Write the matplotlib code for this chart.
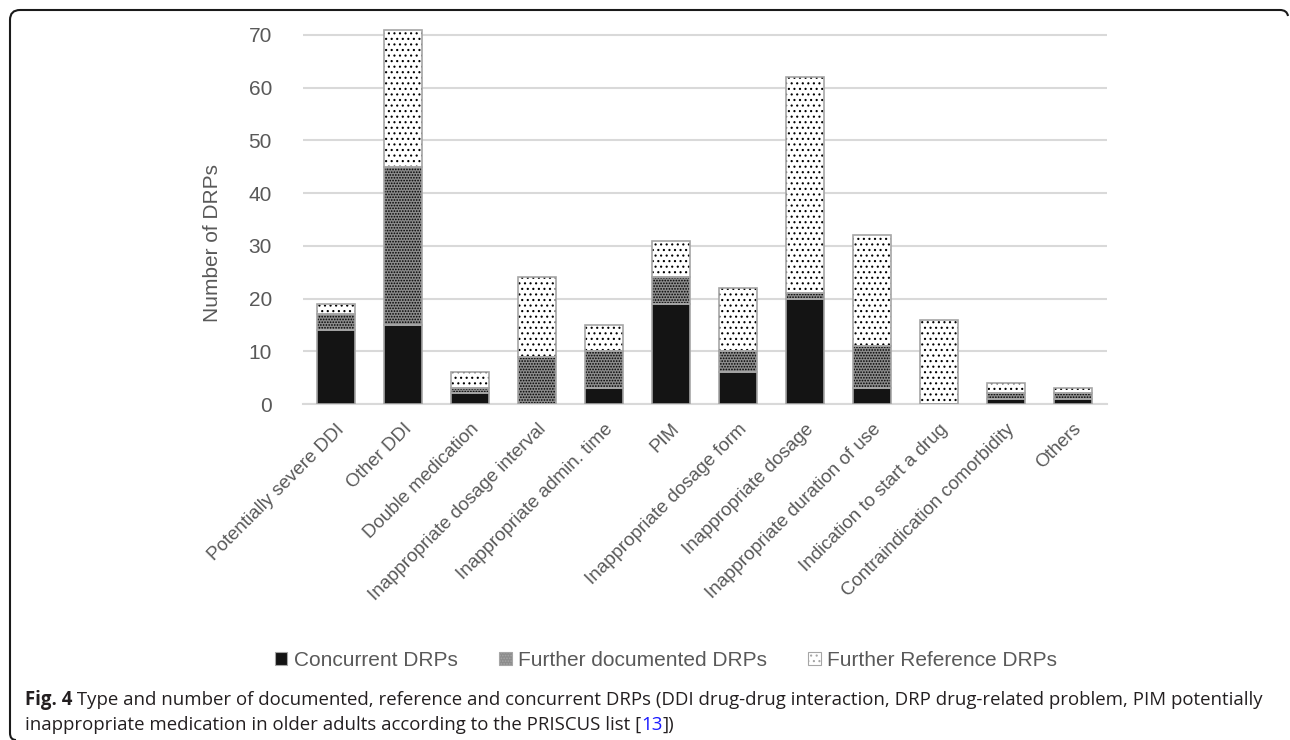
import numpy as np
from matplotlib import pyplot as plt
from matplotlib.path import Path
from matplotlib.patches import PathPatch, Patch

categories = [
    "Potentially severe DDI", "Other DDI", "Double medication",
    "Inappropriate dosage interval", "Inappropriate admin. time", "PIM",
    "Inappropriate dosage form", "Inappropriate dosage",
    "Inappropriate duration of use", "Indication to start a drug",
    "Contraindication comorbidity", "Others",
]
concurrent = [14, 15, 2, 0, 3, 19, 6, 20, 3, 0, 1, 1]
documented = [3, 30, 1, 9, 7, 5, 4, 1, 8, 0, 1, 1]
reference = [2, 26, 3, 15, 5, 7, 12, 41, 21, 16, 2, 1]
series_names = ["Concurrent DRPs", "Further documented DRPs", "Further Reference DRPs"]
yticks = [0, 10, 20, 30, 40, 50, 60, 70]

W, H = 1290, 740
plt.rcParams['font.family'] = ['Liberation Sans', 'DejaVu Sans']
plt.rcParams['hatch.linewidth'] = 0.8
plt.rcParams['hatch.color'] = 'black'

fig = plt.figure(figsize=(W / 100, H / 100), dpi=100)
# y = 0 sits at 404 px, y = 70 at 35 px; a bit of headroom for the 71 bar
ax_h = 369 * 72 / 70
ax = fig.add_axes([302.5 / W, 1 - 404 / H, 804 / W, ax_h / H])

x = np.arange(len(categories))
conc = np.array(concurrent)
doc = np.array(documented)
ref = np.array(reference)

styles = [
    dict(color='#141414', hatch=None),
    dict(color='#8c8c8c', hatch='......'),
    dict(color='white', hatch='...'),
]
bottoms = [np.zeros(len(x)), conc, conc + doc]
for vals, bot, st in zip([conc, doc, ref], bottoms, styles):
    ax.bar(x, vals, 0.57, bottom=bot, color=st['color'], hatch=st['hatch'],
           edgecolor='black', linewidth=0, zorder=3)
    ax.bar(x, vals, 0.57, bottom=bot, fill=False, edgecolor='#a6a6a6',
           linewidth=1.2, zorder=4)

ax.set_xlim(-0.5, len(x) - 0.5)
ax.set_ylim(0, 72)
ax.set_yticks(yticks)
ax.set_xticks(x)
ax.set_xticklabels(categories, rotation=45, ha='right', rotation_mode='anchor',
                   fontsize=13.5, color='#595959')
ax.tick_params(axis='y', length=0, pad=22, labelsize=15, labelcolor='#595959')
ax.tick_params(axis='x', length=0, pad=12)
ax.grid(axis='y', color='#d9d9d9', linewidth=1.5, zorder=0)
for s in ['top', 'right', 'left']:
    ax.spines[s].set_visible(False)
ax.spines['bottom'].set_color('#d9d9d9')
ax.spines['bottom'].set_linewidth(1.5)
ax.set_ylabel("Number of DRPs", fontsize=15, color='#595959')
ax.yaxis.set_label_coords((222 - 302.5) / 804, (404 - 243) / ax_h)

handles = [Patch(facecolor=st['color'], hatch=st['hatch'], edgecolor='#a6a6a6',
                 linewidth=0.8) for st in styles]
fig.legend(handles, series_names, loc='center', bbox_to_anchor=(666 / W, 1 - 660 / H),
           ncol=3, frameon=False, fontsize=15, handlelength=0.6, handleheight=0.6,
           handletextpad=0.3, columnspacing=2.0, labelcolor='#595959')

# caption
cap_color = '#231f20'
cap_font = ['Open Sans', 'DejaVu Sans']
cap_size = 13.4
t1 = fig.text(25 / W, 1 - 700 / H, "Fig. 4", fontsize=cap_size, fontweight='bold',
              family=cap_font, color=cap_color, va='center')
ax.annotate(" Type and number of documented, reference and concurrent DRPs (DDI drug-drug "
            "interaction, DRP drug-related problem, PIM potentially",
            xy=(1, 0.5), xycoords=t1, va='center', ha='left', fontsize=cap_size,
            family=cap_font, color=cap_color, annotation_clip=False)
t2 = fig.text(25 / W, 1 - 725 / H, "inappropriate medication in older adults according to the PRISCUS list [",
              fontsize=cap_size, family=cap_font, color=cap_color, va='center')
t3 = ax.annotate("13", xy=(1, 0.5), xycoords=t2, va='center', ha='left', fontsize=cap_size,
                 family=cap_font, color='#1a1aff', annotation_clip=False)
ax.annotate("])", xy=(1, 0.5), xycoords=t3, va='center', ha='left', fontsize=cap_size,
            family=cap_font, color=cap_color, annotation_clip=False)

# rounded frame around the figure
pts = [(16, 740), (10, 740), (10, 733), (10, 20), (10, 10), (20, 10),
       (1280, 10), (1287, 10), (1288, 16)]
codes = [Path.MOVETO, Path.CURVE3, Path.CURVE3, Path.LINETO, Path.CURVE3, Path.CURVE3,
         Path.LINETO, Path.CURVE3, Path.CURVE3]
verts = [(px / W, 1 - py / H) for px, py in pts]
fig.add_artist(PathPatch(Path(verts, codes), fill=False, edgecolor='#1a1a1a',
                         linewidth=1.5, transform=fig.transFigure))

plt.savefig("out.png", dpi=100)
